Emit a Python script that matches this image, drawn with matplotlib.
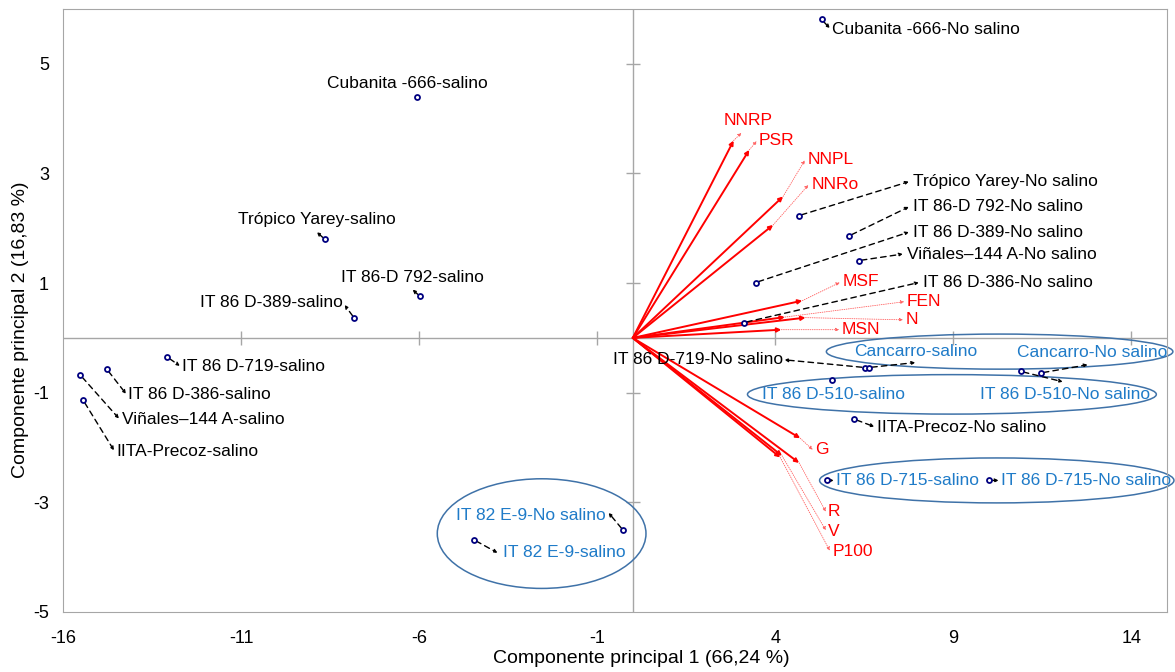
import matplotlib.pyplot as plt
from matplotlib.patches import Ellipse

plt.rcParams['font.family'] = ['Liberation Sans', 'DejaVu Sans']
plt.rcParams['axes.unicode_minus'] = False

# scores of each variety/treatment on PC1 and PC2
names = ['Cubanita -666-salino', 'Trópico Yarey-salino', 'IT 86-D 792-salino', 'IT 86 D-389-salino',
         'IT 86 D-719-salino', 'IT 86 D-386-salino', 'Viñales–144 A-salino', 'IITA-Precoz-salino',
         'IT 82 E-9-No salino', 'IT 82 E-9-salino',
         'Cubanita -666-No salino', 'Trópico Yarey-No salino', 'IT 86-D 792-No salino',
         'IT 86 D-389-No salino', 'Viñales–144 A-No salino', 'IT 86 D-386-No salino',
         'IT 86 D-719-No salino', 'Cancarro-salino', 'Cancarro-No salino', 'IT 86 D-510-No salino',
         'IT 86 D-510-salino', 'IITA-Precoz-No salino', 'IT 86 D-715-salino', 'IT 86 D-715-No salino']
pc1 = [-6.06, -8.65, -5.98, -7.82, -13.07, -14.77, -15.51, -15.43, -0.27, -4.47,
       5.30, 4.66, 6.07, 3.45, 6.34, 3.12, 6.51, 6.63, 11.45, 10.89, 5.60, 6.21, 5.44, 9.99]
pc2 = [4.39, 1.80, 0.76, 0.36, -0.35, -0.57, -0.68, -1.14, -3.51, -3.68,
       5.81, 2.23, 1.86, 1.01, 1.41, 0.28, -0.54, -0.54, -0.64, -0.61, -0.77, -1.48, -2.60, -2.60]

# variable loadings (vector ends)
variables = ['NNRP', 'PSR', 'NNPL', 'NNRo', 'MSF', 'FEN', 'N', 'MSN', 'G', 'R', 'V', 'P100']
load1 = [2.83, 3.27, 4.22, 3.94, 4.76, 4.27, 4.85, 4.17, 4.70, 4.67, 4.19, 4.14]
load2 = [3.60, 3.43, 2.58, 2.06, 0.68, 0.38, 0.37, 0.15, -1.83, -2.28, -2.15, -2.18]

xticks = [-16, -11, -6, -1, 4, 9, 14]
yticks = [5, 3, 1, -1, -3, -5]

# label placement: (text x, text y, ha, leader end or None)
lab_pos = {
    'Cubanita -666-salino': (-6.32, 4.65, 'center', None),
    'Trópico Yarey-salino': (-8.86, 2.16, 'center', (-8.87, 1.93)),
    'IT 86-D 792-salino': (-6.18, 1.10, 'center', (-6.18, 0.88)),
    'IT 86 D-389-salino': (-8.14, 0.64, 'right', (-8.09, 0.60)),
    'IT 86 D-719-salino': (-12.66, -0.52, 'left', (-12.72, -0.51)),
    'IT 86 D-386-salino': (-14.18, -1.04, 'left', (-14.23, -1.02)),
    'Viñales–144 A-salino': (-14.35, -1.49, 'left', (-14.43, -1.47)),
    'IITA-Precoz-salino': (-14.49, -2.07, 'left', (-14.57, -2.05)),
    'IT 82 E-9-No salino': (-0.76, -3.24, 'right', (-0.68, -3.19)),
    'IT 82 E-9-salino': (-3.65, -3.92, 'left', (-3.80, -3.92)),
    'Cubanita -666-No salino': (5.59, 5.62, 'left', (5.53, 5.65)),
    'Trópico Yarey-No salino': (7.86, 2.85, 'left', (7.75, 2.85)),
    'IT 86-D 792-No salino': (7.86, 2.39, 'left', (7.75, 2.39)),
    'IT 86 D-389-No salino': (7.86, 1.93, 'left', (7.75, 1.93)),
    'Viñales–144 A-No salino': (7.69, 1.53, 'left', (7.58, 1.53)),
    'IT 86 D-386-No salino': (8.14, 1.01, 'left', (8.03, 1.01)),
    'IT 86 D-719-No salino': (4.21, -0.40, 'right', (4.26, -0.40)),
    'Cancarro-salino': (7.95, -0.24, 'center', (7.93, -0.45)),
    'Cancarro-No salino': (10.78, -0.27, 'left', (12.77, -0.49)),
    'IT 86 D-510-No salino': (9.74, -1.03, 'left', (12.07, -0.80)),
    'IT 86 D-510-salino': (3.62, -1.03, 'left', None),
    'IITA-Precoz-No salino': (6.85, -1.64, 'left', (6.78, -1.62)),
    'IT 86 D-715-salino': (5.70, -2.60, 'left', (5.64, -2.60)),
    'IT 86 D-715-No salino': (10.33, -2.60, 'left', (10.27, -2.60)),
}
blue_labels = ['IT 82 E-9-No salino', 'IT 82 E-9-salino', 'Cancarro-salino', 'Cancarro-No salino',
               'IT 86 D-510-No salino', 'IT 86 D-510-salino', 'IT 86 D-715-salino', 'IT 86 D-715-No salino']

var_lab = {
    'NNRP': (3.24, 3.96, 'center', (3.05, 3.74)),
    'PSR': (3.54, 3.61, 'left', (3.48, 3.59)),
    'NNPL': (4.91, 3.25, 'left', (4.83, 3.24)),
    'NNRo': (5.03, 2.79, 'left', (4.93, 2.79)),
    'MSF': (5.90, 1.03, 'left', (5.81, 1.01)),
    'FEN': (7.69, 0.66, 'left', (7.62, 0.66)),
    'N': (7.66, 0.33, 'left', (7.59, 0.33)),
    'MSN': (5.87, 0.15, 'left', (5.80, 0.15)),
    'G': (5.11, -2.04, 'left', (5.05, -2.04)),
    'R': (5.47, -3.17, 'left', (5.42, -3.17)),
    'V': (5.47, -3.53, 'left', (5.42, -3.51)),
    'P100': (5.61, -3.90, 'left', (5.53, -3.88)),
}

# groups circled in the figure: (center x, center y, width, height)
ellipses = [(-2.56, -3.57, 5.86, 2.0), (10.30, -0.25, 9.73, 0.64),
            (8.96, -1.03, 11.48, 0.72), (10.22, -2.60, 9.95, 0.82)]

fig = plt.figure(figsize=(11.75, 6.72), dpi=100)
ax = fig.add_axes([0.0536, 0.0893, 0.9396, 0.8973])
ax.set_xlim(-16, 15)
ax.set_ylim(-5, 6)

grey = '#A6A6A6'
for s in ax.spines.values():
    s.set_color(grey)
ax.axhline(0, color=grey, lw=1, zorder=1)
ax.axvline(0, color=grey, lw=1, zorder=1)
ax.set_xticks(xticks)
ax.set_yticks(yticks)
ax.tick_params(axis='x', length=0, labelsize=13, pad=13)
ax.tick_params(axis='y', length=0, labelsize=13, pad=10)
# tick marks on the zero lines
ax.plot([t for t in xticks if t != -16], [0] * 6, ls='none', marker='|', ms=10, color=grey, mew=1)
ax.plot([0] * 5, [t for t in yticks if t != -5], ls='none', marker='_', ms=10, color=grey, mew=1)

ax.set_xlabel('Componente principal 1 (66,24 %)', fontsize=14)
ax.set_ylabel('Componente principal 2 (16,83 %)', fontsize=14)
ax.xaxis.set_label_coords(0.524, -0.063)
ax.yaxis.set_label_coords(-0.031, 0.468)

# vectors
for v, a, b in zip(variables, load1, load2):
    ax.annotate('', xy=(a, b), xytext=(0, 0),
                arrowprops=dict(arrowstyle='-|>', color='red', lw=1.4, mutation_scale=6, shrinkA=0, shrinkB=0))
    tx, ty, ha, end = var_lab[v]
    ax.annotate('', xy=end, xytext=(a, b),
                arrowprops=dict(arrowstyle='-|>', color='#FF6060', lw=0.6, ls=':', mutation_scale=5,
                                shrinkA=0, shrinkB=0))
    ax.text(tx, ty, v, color='red', fontsize=12.5, ha=ha, va='center')

# ellipses
for cx, cy, w, h in ellipses:
    ax.add_patch(Ellipse((cx, cy), w, h, fill=False, ec='#3F72A8', lw=1.1, clip_on=False, zorder=2))

# points and labels
ax.plot(pc1, pc2, ls='none', marker='o', ms=3.6, mfc='white', mec='#000080', mew=1.3, zorder=5)
for n, a, b in zip(names, pc1, pc2):
    tx, ty, ha, end = lab_pos[n]
    col = '#1F7BC8' if n in blue_labels else 'black'
    if end is not None:
        ax.annotate('', xy=end, xytext=(a, b),
                    arrowprops=dict(arrowstyle='-|>', color='black', lw=1, ls=(0, (4, 3)), mutation_scale=5,
                                    shrinkA=2, shrinkB=0), zorder=4)
    ax.text(tx, ty, n, color=col, fontsize=12.5, ha=ha, va='center', zorder=6)

plt.savefig('out.png')
